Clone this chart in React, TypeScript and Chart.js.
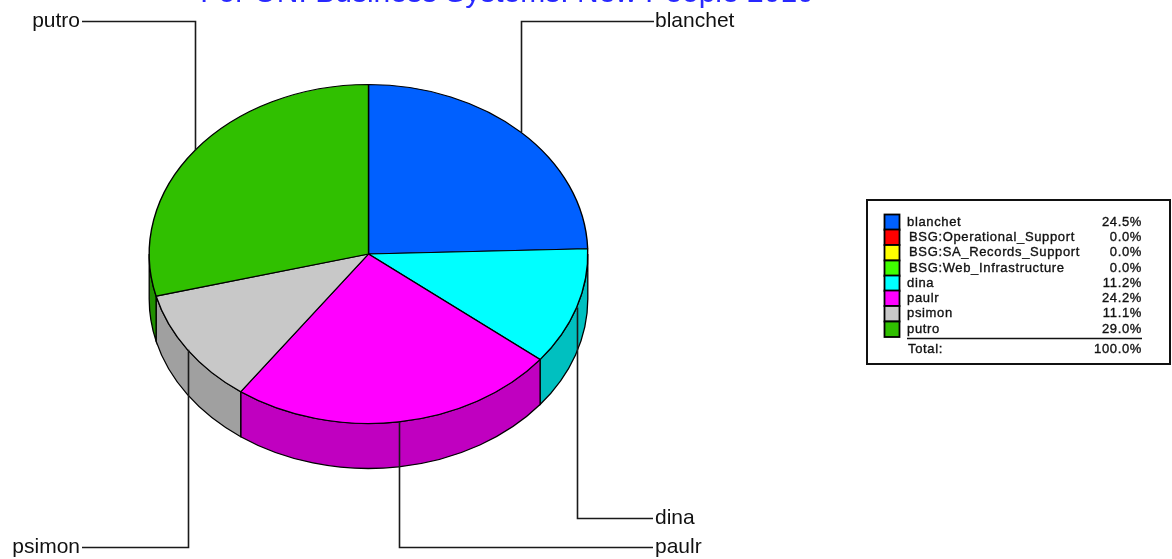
import React, { useEffect, useRef } from "react";
import { Chart, registerables } from "chart.js";

Chart.register(...registerables);

const titleText = "For ON: Business Systems: New People 2010";
const categories = ["blanchet", "BSG:Operational_Support", "BSG:SA_Records_Support", "BSG:Web_Infrastructure", "dina", "paulr", "psimon", "putro"];
const shares = [24.5, 0, 0, 0, 11.2, 24.2, 11.1, 29.0];
const topColors = ["#0060FF", "#FF0000", "#FFFF00", "#40FF00", "#00FFFF", "#FF00FF", "#C8C8C8", "#30C000"];
const wallColors = ["#0048C0", "#C00000", "#C0C000", "#30C000", "#00C0C0", "#C000C0", "#A0A0A0", "#209000"];
const totalLabel = "Total:";
const totalValue = "100.0%";

const W = 1172;
const H = 559;
const SQUASH = 170 / 220;
const DEPTH = 45;

// Routing of the callout lines: "v" = y of the horizontal run, end = x where it stops, text = x of the label
const callouts: Record<string, { v: number; end: number; text: number; align: CanvasTextAlign }> = {
  blanchet: { v: 21, end: 654, text: 655, align: "left" },
  dina: { v: 518, end: 653, text: 655, align: "left" },
  paulr: { v: 547, end: 653, text: 655, align: "left" },
  psimon: { v: 547, end: 82, text: 80, align: "right" },
  putro: { v: 21, end: 82, text: 80, align: "right" },
};

const piePlugin = {
  id: "pie3d",
  beforeDatasetsDraw(chart: any) {
    const { ctx } = chart;
    const arcs = chart.getDatasetMeta(0).data;
    ctx.save();
    arcs.forEach((arc: any, i: number) => {
      const { x, y, startAngle, endAngle, outerRadius } = arc;
      const ry = outerRadius * SQUASH;
      const a0 = Math.max(startAngle, 0);
      const a1 = Math.min(endAngle, Math.PI);
      if (a1 <= a0) return;
      ctx.beginPath();
      ctx.ellipse(x, y, outerRadius, ry, 0, a0, a1, false);
      ctx.ellipse(x, y + DEPTH, outerRadius, ry, 0, a1, a0, true);
      ctx.closePath();
      ctx.fillStyle = wallColors[i];
      ctx.fill();
      ctx.strokeStyle = "#000";
      ctx.lineWidth = 1.3;
      ctx.stroke();
    });
    ctx.restore();
    const c = arcs[0];
    ctx.save();
    ctx.translate(c.x, c.y);
    ctx.scale(1, SQUASH);
    ctx.translate(-c.x, -c.y);
  },
  afterDatasetsDraw(chart: any) {
    const { ctx } = chart;
    ctx.restore();
    const arcs = chart.getDatasetMeta(0).data;

    // Title, cut by the top of the picture as in the original
    ctx.save();
    ctx.font = "30px 'Liberation Sans'";
    ctx.fillStyle = "#2828FF";
    ctx.textAlign = "center";
    ctx.textBaseline = "alphabetic";
    ctx.fillText(titleText, 507, 2);
    ctx.restore();

    // Callouts
    ctx.save();
    ctx.strokeStyle = "#1a1a1a";
    ctx.lineWidth = 1.6;
    ctx.fillStyle = "#111";
    ctx.font = "21px 'Liberation Sans'";
    ctx.textBaseline = "middle";
    arcs.forEach((arc: any, i: number) => {
      const route = callouts[categories[i]];
      if (!route) return;
      const mid = (arc.startAngle + arc.endAngle) / 2;
      const px = Math.round(arc.x + arc.outerRadius * Math.cos(mid)) + 0.5;
      const py = arc.y + arc.outerRadius * SQUASH * Math.sin(mid);
      ctx.beginPath();
      ctx.moveTo(px, py);
      ctx.lineTo(px, route.v + 0.5);
      ctx.lineTo(route.end, route.v + 0.5);
      ctx.stroke();
      ctx.textAlign = route.align;
      ctx.fillText(categories[i], route.text, route.v);
    });
    ctx.restore();

    // Legend box
    ctx.save();
    ctx.fillStyle = "#fff";
    ctx.strokeStyle = "#111";
    ctx.lineWidth = 2;
    ctx.fillRect(867, 200, 303, 164);
    ctx.strokeRect(867, 200, 303, 164);
    ctx.font = "13px 'Liberation Sans'";
    ctx.textBaseline = "middle";
    (ctx as any).letterSpacing = "0.65px";
    const drawText = (text: string, x: number, y: number) => {
      ctx.strokeStyle = "#111";
      ctx.lineWidth = 0.35;
      ctx.strokeText(text, x, y);
      ctx.fillText(text, x, y);
    };
    const rowY = [222, 237, 252.5, 268, 283, 298, 313.5, 329];
    categories.forEach((name, i) => {
      const y = rowY[i];
      ctx.fillStyle = topColors[i];
      ctx.fillRect(884.5, y - 7.5, 15, 15.5);
      ctx.strokeStyle = "#000";
      ctx.lineWidth = 1.8;
      ctx.strokeRect(884.5, y - 7.5, 15, 15.5);
      ctx.fillStyle = "#111";
      ctx.textAlign = "left";
      drawText(name, name.startsWith("BSG") ? 909 : 907, y);
      ctx.textAlign = "right";
      drawText(shares[i].toFixed(1) + "%", 1142, y);
    });
    ctx.strokeStyle = "#111";
    ctx.lineWidth = 1.5;
    ctx.beginPath();
    ctx.moveTo(907, 338.5);
    ctx.lineTo(1142, 338.5);
    ctx.stroke();
    ctx.fillStyle = "#111";
    ctx.textAlign = "left";
    drawText(totalLabel, 908, 349);
    ctx.textAlign = "right";
    drawText(totalValue, 1142, 349);
    ctx.restore();
  },
};

export default function App() {
  const ref = useRef<HTMLCanvasElement>(null);
  useEffect(() => {
    const chart = new Chart(ref.current!, {
      type: "pie",
      data: {
        labels: categories,
        datasets: [
          {
            data: shares,
            backgroundColor: topColors,
            borderColor: "#000",
            borderWidth: 1.4,
            hoverOffset: 0,
            clip: false,
          } as any,
        ],
      },
      options: {
        responsive: false,
        animation: false,
        devicePixelRatio: 1,
        layout: { padding: { left: 148.5, right: 583.5, top: 34, bottom: 85 } },
        plugins: { legend: { display: false }, tooltip: { enabled: false } },
      },
      plugins: [piePlugin],
    });
    return () => chart.destroy();
  }, []);
  return (
    <div style={{ position: "absolute", left: 0, top: 0, width: W, height: H, overflow: "hidden", background: "#fff" }}>
      <canvas ref={ref} width={W} height={H} style={{ display: "block", filter: "blur(0.4px)" }} />
    </div>
  );
}
